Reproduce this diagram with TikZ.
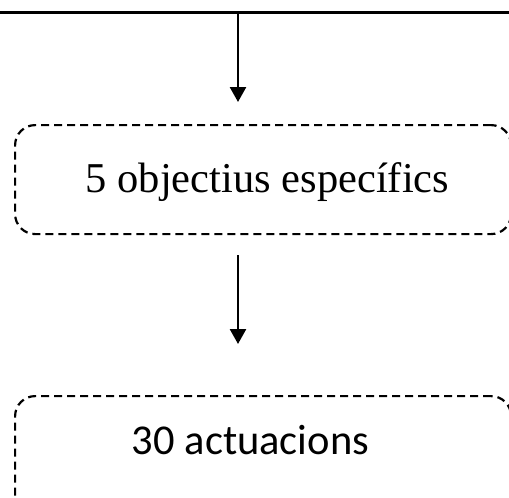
\documentclass[tikz,border=0pt]{standalone}
\usepackage{fontspec}
\setmainfont{Liberation Serif}
\newfontfamily\calibrifont{Carlito}
\usetikzlibrary{arrows.meta, positioning}
\tikzset{
    dashbox/.style={rectangle, rounded corners=20pt, draw=black, line width=2.2pt, dash pattern=on 8pt off 5pt, anchor=north west},
    boxtext/.style={font=\fontsize{42.5}{50}\selectfont, inner sep=0pt, anchor=base},
    arrow/.style={-{Triangle[width=16pt, length=15pt]}, line width=2.6pt, draw=black}
}
\begin{document}
\begin{tikzpicture}[x=1pt, y=-1pt]

    \clip (0,0) rectangle (509,498);

    % Top line
    \coordinate (lineleft) at (0,12.5);
    \coordinate (lineright) at (509,12.5);
    \coordinate (split) at (238,12.5);
    \draw [line width=2.6pt] (lineleft) -- (lineright);

    % Boxes
    \node (goals) [dashbox, minimum width=496pt, minimum height=109pt] at (14,124) {};
    \node (goalstext) [boxtext] at (267.5,192) {5 objectius específics};

    \node (acts) [dashbox, minimum width=496pt, minimum height=120pt] at (14,395) {};
    \node (actstext) [boxtext, font=\calibrifont\fontsize{42.5}{50}\selectfont] at (250.5,454) {30 actuacions};

    % Arrow ends
    \coordinate (tip1) at (238,102);
    \coordinate (start2) at (238,255);
    \coordinate (tip2) at (238,344);

    % Connecting
    \draw [arrow] (split) -- (tip1);
    \draw [arrow] (start2) -- (tip2);

\end{tikzpicture}
\end{document}
